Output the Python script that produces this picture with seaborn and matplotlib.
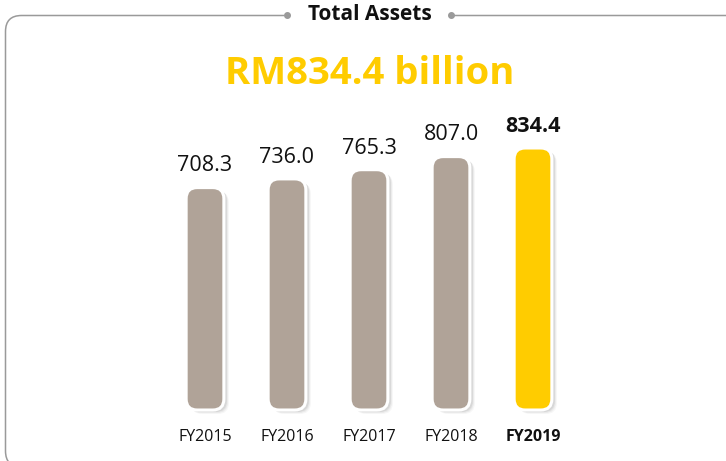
import numpy as np
import pandas as pd
import seaborn as sns
import matplotlib.pyplot as plt
from matplotlib.patches import FancyBboxPatch, Rectangle
from matplotlib.transforms import offset_copy

years = ['FY2015', 'FY2016', 'FY2017', 'FY2018', 'FY2019']
assets = [708.3, 736.0, 765.3, 807.0, 834.4]
bar_colors = ['#b0a398', '#b0a398', '#b0a398', '#b0a398', '#ffcc00']
title = 'Total Assets'
headline = 'RM834.4 billion'

sns.set_style('white')
plt.rcParams['font.family'] = ['Open Sans', 'DejaVu Sans']

W, H = 726, 461
fig = plt.figure(figsize=(W / 100, H / 100), dpi=100)

# axes placed so that one category = 82 px and 834.4 -> 262 px
px_per_unit = 262 / 834.4
ax_left, ax_right, ax_bottom, ax_top = 164, 574, 410, 100
ax = fig.add_axes([ax_left / W, (H - ax_bottom) / H,
                   (ax_right - ax_left) / W, (ax_bottom - ax_top) / H])

df = pd.DataFrame({'year': years, 'assets': assets})
sns.barplot(data=df, x='year', y='assets', hue='year', palette=bar_colors,
            saturation=1, width=0.46, legend=False, ax=ax)
ax.set_xlim(-0.5, 4.5)
ax.set_ylim(0, (ax_bottom - ax_top) / px_per_unit)

# swap the plain bars for rounded ones with a soft shadow
x_px = (ax_right - ax_left) / 5
aspect = x_px / px_per_unit
radius = 11 / x_px
for p in list(ax.patches):
    x, w, h, c = p.get_x(), p.get_width(), p.get_height(), p.get_facecolor()
    p.set_visible(False)
    for dx, dy, a in [(5, -4, 0.05), (4, -3, 0.08), (3, -2, 0.12)]:
        sh = FancyBboxPatch((x, 0), w, h,
                            boxstyle=f'round,pad=0,rounding_size={radius}',
                            mutation_aspect=aspect, facecolor='#555555',
                            edgecolor='none', alpha=a, clip_on=False,
                            transform=offset_copy(ax.transData, fig, x=dx, y=dy, units='dots'))
        ax.add_patch(sh)
    bar = FancyBboxPatch((x, 0), w, h,
                         boxstyle=f'round,pad=0,rounding_size={radius}',
                         mutation_aspect=aspect, facecolor=c,
                         edgecolor='white', linewidth=2.2, clip_on=False)
    ax.add_patch(bar)

for i, v in enumerate(assets):
    last = i == len(assets) - 1
    ax.annotate(f'{v:.1f}', (i, v), xytext=(0, 8), textcoords='offset points',
                ha='center', va='bottom', fontsize=15.5,
                fontweight='bold' if last else 'normal', color='#111111')

ax.set_xlabel('')
ax.set_ylabel('')
ax.set_yticks([])
ax.set_xticks(range(len(years)))
ax.set_xticklabels(years, fontsize=11.5, color='#111111')
ax.get_xticklabels()[-1].set_fontweight('bold')
ax.tick_params(axis='x', length=0, pad=14)
sns.despine(ax=ax, left=True, bottom=True)
ax.patch.set_alpha(0)

# rounded frame in figure pixels
line_y = 15.5
frame = FancyBboxPatch((5.5 / W, -6 / H), (744 - 5.5) / W, (H + 6 - line_y) / H,
                       boxstyle=f'round,pad=0,rounding_size={16 / W}',
                       mutation_aspect=W / H, transform=fig.transFigure,
                       facecolor='none', edgecolor='#9a9a9a', linewidth=1.1)
fig.patches.append(frame)
gap = Rectangle((284 / W, (H - line_y - 8) / H), (454 - 284) / W, 16 / H,
                transform=fig.transFigure, facecolor='white', edgecolor='none')
fig.patches.append(gap)
fig.lines.append(plt.Line2D([287 / W, 451 / W], [(H - line_y) / H] * 2, linestyle='none',
                            marker='o', markersize=4, color='#9a9a9a',
                            transform=fig.transFigure))

fig.text(370 / W, (H - 15) / H, title, ha='center', va='center',
         fontsize=15, fontweight='bold', color='#111111')
fig.text(370 / W, (H - 74) / H, headline, ha='center', va='center',
         fontsize=27.5, fontweight='bold', color='#ffcc00')

fig.savefig('out.png', dpi=100, facecolor='white')
